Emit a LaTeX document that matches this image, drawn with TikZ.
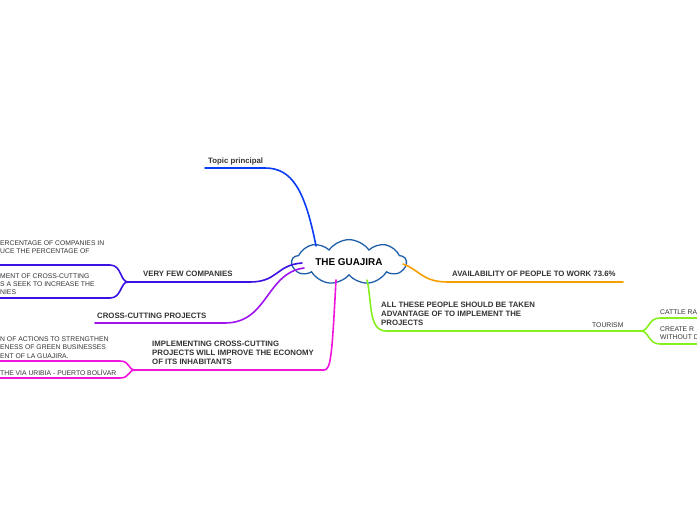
\documentclass[tikz,border=0pt]{standalone}
\usepackage{fontspec}
\setmainfont{Liberation Sans}
\usetikzlibrary{shapes.symbols}
\definecolor{cloudblue}{HTML}{1F5FAA}
\definecolor{cblue}{HTML}{0B3CF5}
\definecolor{cviolet}{HTML}{3A12E4}
\definecolor{cpurple}{HTML}{A014EE}
\definecolor{cmagenta}{HTML}{F014DC}
\definecolor{corange}{HTML}{F5A000}
\definecolor{cgreen}{HTML}{86F01E}
\definecolor{txt}{HTML}{333333}
\tikzset{
  main/.style={font=\bfseries\fontsize{7.8}{9}\selectfont, text=txt, inner sep=0pt, anchor=north west, align=left},
  sub/.style={font=\fontsize{6.8}{8.3}\selectfont, text=txt, inner sep=0pt, anchor=north west, align=left},
  conn/.style={line width=1.6pt, line cap=round, line join=round},
}
\begin{document}
\begin{tikzpicture}[x=1pt,y=-1pt]
\useasboundingbox (0,0) rectangle (697,520);
% central topic
\node[cloud, cloud puffs=9, cloud puff arc=110, aspect=3.2, draw=cloudblue, line width=1.3pt, fill=white,
      minimum width=114pt, minimum height=36pt, inner sep=0pt,
      font=\bfseries\fontsize{9.9}{11}\selectfont] (root) at (349,262) {THE GUAJIRA};

% coordinates
\coordinate (tpA) at (316,246);
\coordinate (tpB) at (205,168);
\coordinate (vfA) at (302,263);
\coordinate (vfB) at (128,282);
\coordinate (ccA) at (304,268);
\coordinate (ccB) at (95,323);
\coordinate (imA) at (336,280);
\coordinate (imB) at (135,370);
\coordinate (avA) at (403,264);
\coordinate (avB) at (623,282);
\coordinate (alA) at (367,280);
\coordinate (alB) at (641,331);
\coordinate (vfU) at (0,265);
\coordinate (vfL) at (0,298);
\coordinate (imU) at (0,361);
\coordinate (imL) at (0,378);
\coordinate (alU) at (697,318);
\coordinate (alL) at (697,344);

% connectors
\draw[conn, cblue] (tpB) -- (265,168) .. controls (292,168) and (305,190) .. (tpA);
\draw[conn, cviolet] (vfB) -- (250,282) .. controls (278,282) and (276,265) .. (vfA);
\draw[conn, cpurple] (ccB) -- (225,323) .. controls (268,323) and (266,273) .. (ccA);
\draw[conn, cmagenta] (imB) -- (324,370) .. controls (331,370) and (332,355) .. (imA);
\draw[conn, corange] (avA) .. controls (420,270) and (422,282) .. (448,282) -- (avB);
\draw[conn, cgreen] (alA) .. controls (372,300) and (368,331) .. (386,331) -- (alB);

% sub-branches
\draw[conn, cviolet] (vfB) .. controls (120,282) and (122,265) .. (110,265) -- (vfU);
\draw[conn, cviolet] (vfB) .. controls (120,282) and (122,298) .. (110,298) -- (vfL);
\draw[conn, cmagenta] (imB) .. controls (128,370) and (130,361) .. (120,361) -- (imU);
\draw[conn, cmagenta] (imB) .. controls (128,370) and (130,378) .. (120,378) -- (imL);
\draw[conn, cgreen] (alB) .. controls (649,331) and (648,318) .. (660,318) -- (alU);
\draw[conn, cgreen] (alB) .. controls (649,331) and (648,344) .. (660,344) -- (alL);

% labels
\node[main] (ltp) at (208,157.2) {Topic principal};
\node[main] (lvf) at (143,271.2) {VERY FEW COMPANIES};
\node[main] (lcc) at (97,313.2) {CROSS-CUTTING PROJECTS};
\node[main] (lim) at (152,341.2) {IMPLEMENTING CROSS-CUTTING\\PROJECTS WILL IMPROVE THE ECONOMY\\OF ITS INHABITANTS};
\node[main] (lav) at (452,271.2) {AVAILABILITY OF PEOPLE TO WORK 73.6\%};
\node[main] (lal) at (381,302.2) {ALL THESE PEOPLE SHOULD BE TAKEN\\ADVANTAGE OF TO IMPLEMENT THE\\PROJECTS};
\node[sub] (ltour) at (592,322.6) {TOURISM};

\node[sub] (lvf1) at (0,240.5) {ERCENTAGE OF COMPANIES IN\\UCE THE PERCENTAGE OF};
\node[sub] (lvf2) at (0,273.3) {MENT OF CROSS-CUTTING\\S A SEEK TO INCREASE THE\\NIES};
\node[sub] (lim1) at (0,336.5) {N OF ACTIONS TO STRENGTHEN\\ENESS OF GREEN BUSINESSES\\ENT OF LA GUAJIRA.};
\node[sub] (lim2) at (0,369.6) {THE VIA URIBIA - PUERTO BOLÍVAR};
\node[sub] (lal1) at (660,309.6) {CATTLE RA};
\node[sub] (lal2) at (660,326.5) {CREATE R\\WITHOUT D};
\end{tikzpicture}
\end{document}
